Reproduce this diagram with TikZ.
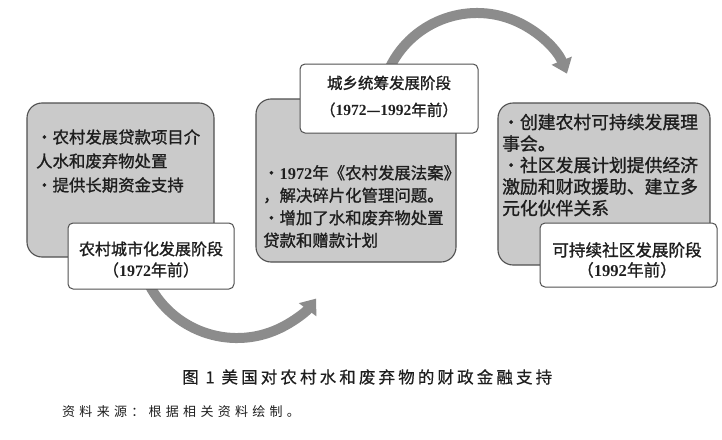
\documentclass[tikz,border=0pt]{standalone}
\usepackage{fontspec}
\usetikzlibrary{arrows.meta}
\newfontfamily\cjkb{Noto Sans CJK SC}[FakeBold=1.2]
\newfontfamily\cjkcap{Noto Sans CJK SC}[LetterSpace=19,FakeBold=0.6]
\newfontfamily\cjksrc{Noto Sans CJK SC}[LetterSpace=33]
\newfontfamily\dgfont{Liberation Serif}
\newcommand\dg[1]{{\dgfont\bfseries #1}}
\definecolor{boxgray}{RGB}{202,202,202}
\definecolor{arrowgray}{RGB}{140,140,140}
\definecolor{edgegray}{RGB}{80,80,80}
\definecolor{inkc}{RGB}{30,30,30}
\begin{document}
\begin{tikzpicture}[x=1pt,y=-1pt,
  graybox/.style={draw=edgegray, fill=boxgray, rounded corners=15pt, line width=1.1pt, inner sep=0pt},
  whitebox/.style={draw=edgegray, fill=white, rounded corners=5pt, line width=1pt, inner sep=0pt},
  cyclearrow/.style={draw=arrowgray, line width=10pt, -{Triangle[width=21pt,length=14pt]}},
  bodytext/.style={inner sep=0pt, align=left, text=inkc},
  titletext/.style={inner sep=0pt, align=center, text=inkc}]
\useasboundingbox[fill=white] (0,0) rectangle (722,439);
% cycle arrows
\coordinate (a1c) at (237,239);
\coordinate (a2c) at (477,110);
\draw[cyclearrow] ([shift={(155:99)}]a1c) arc[start angle=155,end angle=37,radius=99];
\draw[cyclearrow] ([shift={(-157:97)}]a2c) arc[start angle=-157,end angle=-22,radius=97];
% gray boxes
\node[graybox, minimum width=187pt, minimum height=154pt] (g1) at (120.5,180) {};
\node[graybox, minimum width=200pt, minimum height=163pt] (g2) at (356,180.5) {};
\node[graybox, minimum width=212pt, minimum height=162pt] (g3) at (604,184) {};
% white boxes
\node[whitebox, minimum width=166pt, minimum height=66pt] (w1) at (151,256) {};
\node[whitebox, minimum width=178pt, minimum height=69pt] (w2) at (389,98.5) {};
\node[whitebox, minimum width=177pt, minimum height=64pt] (w3) at (628.5,255) {};
% body texts
\node[bodytext, anchor=west, font=\cjkb\fontsize{16.4}{24}\selectfont] (t1) at (36,161)
  {・农村发展贷款项目介\\人水和废弃物处置\\・提供长期资金支持};
\node[bodytext, anchor=west, font=\cjkb\fontsize{16.4}{22.5}\selectfont] (t2) at (263,206.5)
  {・\dg{1972}年《农村发展法案》\\，解决碎片化管理问题。\\・增加了水和废弃物处置\\贷款和赠款计划};
\node[bodytext, anchor=west, font=\cjkb\fontsize{17.8}{21.5}\selectfont] (t3) at (502,165)
  {・创建农村可持续发展理\\事会。\\・社区发展计划提供经济\\激励和财政援助、建立多\\元化伙伴关系};
% stage titles
\node[titletext, font=\cjkb\fontsize{16}{21}\selectfont] (s1) at (151,259.5)
  {农村城市化发展阶段\\（\dg{1972}年前）};
\node[titletext, font=\cjkb\fontsize{15.5}{27}\selectfont] (s2) at (389,96.5)
  {城乡统筹发展阶段\\（\dg{1972}—\dg{1992}年前）};
\node[titletext, font=\cjkb\fontsize{16.6}{20}\selectfont] (s3) at (627,260)
  {可持续社区发展阶段\\（\dg{1992}年前）};
% caption and source
\node[inner sep=0pt, anchor=west, text=inkc, font=\cjkcap\fontsize{16.5}{20}\selectfont] (cap) at (182,377)
  {图 1 美国对农村水和废弃物的财政金融支持};
\node[inner sep=0pt, anchor=west, text=inkc, font=\cjksrc\fontsize{13}{16}\selectfont] (src) at (62,412)
  {资料来源：根据相关资料绘制。};
\end{tikzpicture}
\end{document}
